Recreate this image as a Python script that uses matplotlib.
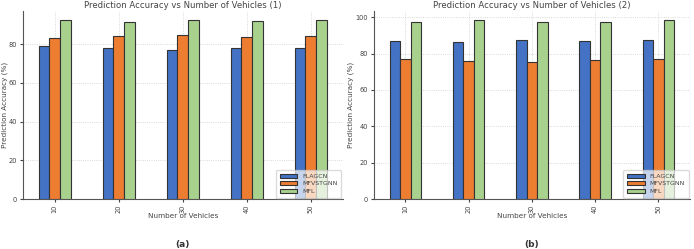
import numpy as np
import matplotlib.pyplot as plt

vehicles = ['10', '20', '30', '40', '50']
methods = ['FLAGCN', 'MFVSTGNN', 'MFL']

# panel (a)
flagcn_1 = [79, 78, 77, 78, 78]
mfvstgnn_1 = [83, 84, 84.5, 83.5, 84]
mfl_1 = [92.5, 91.5, 92.5, 92, 92.5]

# panel (b)
flagcn_2 = [87, 86.5, 87.5, 87, 87.5]
mfvstgnn_2 = [77, 76, 75.5, 76.5, 77]
mfl_2 = [97.5, 98.5, 97.5, 97.5, 98.5]

colors = ['#4472C4', '#ED7D31', '#A9D18E']
txt = '#444444'

fig = plt.figure(figsize=(6.94, 2.49), dpi=100)
ax1 = fig.add_axes([0.0327, 0.2008, 0.4611, 0.755])
ax2 = fig.add_axes([0.5385, 0.2008, 0.4557, 0.755])

def draw(ax, series, title, ylab_x):
    x = np.arange(len(vehicles))
    w = 0.5 / 3
    for i, (vals, name) in enumerate(zip(series, methods)):
        ax.bar(x + (i - 1) * w, vals, w, color=colors[i], edgecolor='#333333',
               linewidth=0.8, label=name, zorder=3)
    ax.set_xticks(x)
    ax.set_xticklabels(vehicles, rotation=90, fontsize=4.8, color=txt)
    ax.tick_params(axis='y', labelsize=4.8, colors=txt, length=2, pad=2)
    ax.tick_params(axis='x', length=2, colors=txt, pad=2)
    ax.set_xlim(-0.5, 4.5)
    ymax = max(max(s) for s in series) * 1.05
    ax.set_ylim(0, ymax)
    ax.set_xlabel('Number of Vehicles', fontsize=5.2, color=txt)
    ax.xaxis.set_label_coords(0.5, -0.074)
    ax.set_ylabel('Prediction Accuracy (%)', fontsize=5.2, color=txt)
    ax.yaxis.set_label_coords(ylab_x, 0.5)
    ax.set_title(title, fontsize=6.1, color=txt, pad=2)
    ax.grid(True, linestyle=':', color='#cccccc', linewidth=0.6, zorder=0)
    for s in ['top', 'right']:
        ax.spines[s].set_visible(False)
    for s in ['left', 'bottom']:
        ax.spines[s].set_color('#555555')
        ax.spines[s].set_linewidth(0.8)
    leg = ax.legend(loc='lower right', fontsize=4.5, frameon=True, framealpha=0.7,
                    handlelength=2.8, borderpad=0.6, labelspacing=0.35,
                    borderaxespad=0.2)
    for t in leg.get_texts():
        t.set_color(txt)

draw(ax1, [flagcn_1, mfvstgnn_1, mfl_1], 'Prediction Accuracy vs Number of Vehicles (1)', -0.046)
draw(ax2, [flagcn_2, mfvstgnn_2, mfl_2], 'Prediction Accuracy vs Number of Vehicles (2)', -0.062)

fig.text(0.263, 0.010, '(a)', fontsize=6.5, fontweight='bold', ha='center', color='#333333')
fig.text(0.766, 0.010, '(b)', fontsize=6.5, fontweight='bold', ha='center', color='#333333')

plt.savefig('out.png', dpi=100)
